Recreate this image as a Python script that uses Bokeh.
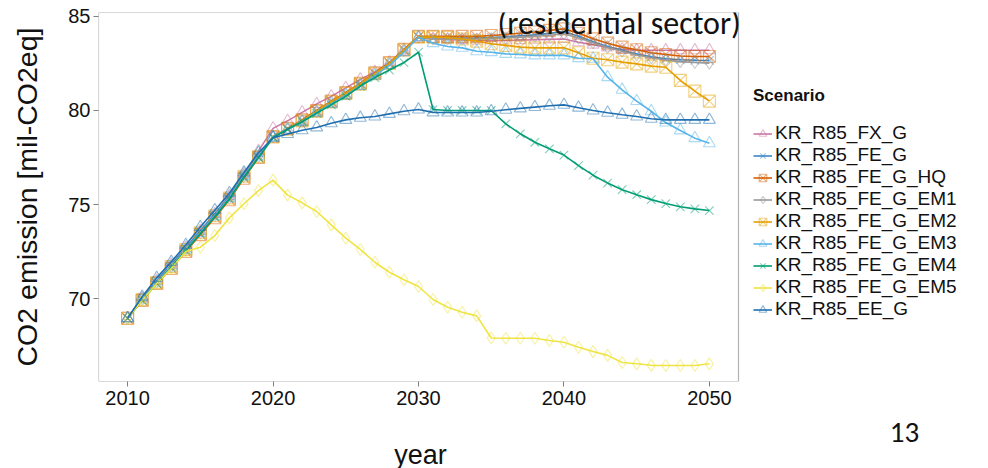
from bokeh.plotting import figure
from bokeh.layouts import column
from bokeh.models import Legend, LegendItem, Label, FixedTicker, Range1d
from bokeh.embed import file_html
from bokeh.resources import INLINE

years = list(range(2010, 2051))

scenarios = ["KR_R85_FX_G", "KR_R85_FE_G", "KR_R85_FE_G_HQ", "KR_R85_FE_G_EM1",
             "KR_R85_FE_G_EM2", "KR_R85_FE_G_EM3", "KR_R85_FE_G_EM4",
             "KR_R85_FE_G_EM5", "KR_R85_EE_G"]

fx_g = [68.95, 70.0, 70.95, 71.8, 72.7, 73.6, 74.5, 75.45, 76.6, 77.85, 79.05,
        79.45, 79.9, 80.35, 80.75, 81.2, 81.65, 82.05, 82.55, 83.2, 83.9,
        83.8, 83.78, 83.75, 83.72, 83.72, 83.72, 83.74, 83.76, 83.78, 83.8,
        83.63, 83.5, 83.35, 83.25, 83.2, 83.2, 83.2, 83.2, 83.2, 83.2]
fe_g = [68.95, 70.05, 70.95, 71.8, 72.7, 73.6, 74.5, 75.45, 76.55, 77.6, 78.6,
        79.0, 79.45, 79.95, 80.45, 80.9, 81.4, 81.95, 82.5, 83.2, 83.9,
        83.85, 83.85, 83.85, 83.85, 83.88, 83.92, 83.97, 84.02, 84.1, 84.2,
        83.95, 83.65, 83.4, 83.2, 83.0, 82.85, 82.75, 82.7, 82.67, 82.66]
fe_g_hq = [68.95, 69.9, 70.8, 71.6, 72.5, 73.4, 74.3, 75.25, 76.4, 77.5, 78.6,
           79.05, 79.5, 80.0, 80.5, 80.95, 81.45, 82.0, 82.55, 83.25, 83.94,
           83.94, 83.94, 83.94, 83.94, 83.99, 84.04, 84.11, 84.17, 84.26, 84.34,
           84.11, 83.81, 83.58, 83.37, 83.23, 83.07, 82.98, 82.9, 82.87, 82.87]
fe_g_em1 = [68.95, 69.95, 70.85, 71.7, 72.6, 73.5, 74.4, 75.35, 76.5, 77.55, 78.6,
            79.0, 79.45, 79.95, 80.45, 80.9, 81.4, 81.95, 82.5, 83.2, 83.9,
            83.8, 83.8, 83.8, 83.8, 83.82, 83.86, 83.9, 83.95, 84.0, 84.08,
            83.85, 83.6, 83.35, 83.15, 82.95, 82.8, 82.68, 82.6, 82.55, 82.52]
fe_g_em2 = [68.95, 69.95, 70.85, 71.7, 72.6, 73.5, 74.4, 75.35, 76.5, 77.55, 78.6,
            79.0, 79.45, 79.95, 80.45, 80.9, 81.4, 81.95, 82.5, 83.2, 83.9,
            83.9, 83.88, 83.8, 83.69, 83.55, 83.46, 83.37, 83.33, 83.33, 83.33,
            83.07, 82.78, 82.7, 82.57, 82.48, 82.36, 82.3, 81.6, 81.03, 80.5]
fe_g_em3 = [68.95, 69.95, 70.85, 71.7, 72.6, 73.5, 74.4, 75.35, 76.5, 77.55, 78.6,
            79.0, 79.4, 79.9, 80.35, 80.8, 81.3, 81.85, 82.4, 83.1, 83.9,
            83.58, 83.4, 83.33, 83.15, 83.1, 83.01, 82.98, 82.93, 82.93, 82.93,
            82.78, 82.75, 81.77, 81.1, 80.5, 79.96, 79.36, 78.94, 78.53, 78.26]
fe_g_em4 = [68.95, 69.9, 70.8, 71.65, 72.55, 73.45, 74.35, 75.3, 76.45, 77.5, 78.55,
            79.0, 79.4, 79.85, 80.3, 80.75, 81.3, 81.75, 82.15, 82.55, 83.1,
            80.05, 80.0, 80.0, 80.0, 80.0, 79.29, 78.76, 78.31, 77.96, 77.63,
            77.07, 76.56, 76.14, 75.79, 75.52, 75.26, 75.05, 74.88, 74.77, 74.68]
fe_g_em5 = [68.95, 69.9, 70.8, 71.6, 72.5, 72.73, 73.35, 74.29, 75.04, 75.74, 76.3,
            75.5, 75.09, 74.63, 73.92, 73.21, 72.61, 71.93, 71.4, 71.0, 70.64,
            69.95, 69.54, 69.27, 69.08, 67.9, 67.89, 67.89, 67.89, 67.77, 67.68,
            67.41, 67.18, 66.98, 66.6, 66.53, 66.45, 66.44, 66.44, 66.44, 66.53]
ee_g = [68.95, 70.1, 71.1, 71.95, 72.85, 73.8, 74.7, 75.6, 76.7, 77.75, 78.55,
        78.75, 78.95, 79.1, 79.32, 79.5, 79.61, 79.68, 79.82, 79.96, 80.05,
        79.9, 79.89, 79.89, 79.89, 79.96, 80.04, 80.11, 80.18, 80.25, 80.3,
        80.15, 80.0, 79.88, 79.77, 79.68, 79.56, 79.5, 79.5, 79.5, 79.5]

series = [fx_g, fe_g, fe_g_hq, fe_g_em1, fe_g_em2, fe_g_em3, fe_g_em4, fe_g_em5, ee_g]
colors = ["#CC79A7", "#3A87C8", "#D55E00", "#999999", "#E69F00",
          "#56B4E9", "#009E73", "#F0E442", "#1F6FB0"]
markers = ["triangle", "x", "square_x", "diamond", "square_x",
           "triangle", "x", "diamond", "triangle"]

x_ticks = [2010, 2020, 2030, 2040, 2050]
y_ticks = [70, 75, 80, 85]

# panel (plot area) limits
x0, x1 = 2008.0, 2052.0
y0, y1 = 65.59, 85.21

FONT = "Liberation Sans"
INK = "#111111"

W, H_MAIN, H_FOOT = 988, 413, 55
LEFT, TOP, BOTTOM = 98, 12, 32
PANEL_W = 640          # width of the drawn plot panel
FRAME_W = W - LEFT     # frame runs on under the legend
x_end = x1 + (FRAME_W - PANEL_W) * (x1 - x0) / PANEL_W

p = figure(width=W, height=H_MAIN, output_backend="svg", toolbar_location=None,
           x_range=Range1d(x0, x_end), y_range=Range1d(y0, y1),
           min_border_left=LEFT, min_border_right=0, min_border_top=TOP,
           min_border_bottom=BOTTOM)
p.background_fill_color = "white"
p.border_fill_color = "white"
p.outline_line_color = None
p.xgrid.visible = False
p.ygrid.visible = False

for ax, ticks, stand in ((p.xaxis[0], x_ticks, 4), (p.yaxis[0], y_ticks, 3)):
    ax.ticker = FixedTicker(ticks=ticks)
    ax.axis_line_color = None
    ax.major_tick_line_color = "#7f7f7f"
    ax.major_tick_out = 5
    ax.major_tick_in = 0
    ax.minor_tick_line_color = None
    ax.major_label_text_font = FONT
    ax.major_label_text_font_size = "20px"
    ax.major_label_text_color = INK
    ax.major_label_standoff = stand

yax = p.yaxis[0]
yax.axis_label = "CO2 emission [mil-CO2eq]"
yax.axis_label_text_font = FONT
yax.axis_label_text_font_size = "28.5px"
yax.axis_label_text_font_style = "normal"
yax.axis_label_text_color = INK
yax.axis_label_standoff = 22

items = []
for name, vals, col, mk in zip(scenarios, series, colors, markers):
    ln = p.line(years, vals, line_color=col, line_width=1.6)
    sc = p.scatter(years, vals, marker=mk, size=12, fill_color=None,
                   line_color=col, line_alpha=0.5, line_width=1.1)
    items.append(LegendItem(label=name, renderers=[ln, sc]))

# panel border
p.quad(left=[x0], right=[x1], bottom=[y0], top=[y1], fill_color=None,
       line_color="#b3b3b3", line_width=1.2)

legend = Legend(items=items, location=(655, 61), title="Scenario",
                title_text_font=FONT, title_text_font_style="bold",
                title_text_font_size="17px", title_text_color=INK,
                title_standoff=16, label_text_font=FONT,
                label_text_font_size="19px", label_text_color=INK,
                glyph_width=19, glyph_height=19, label_height=19,
                label_standoff=3, spacing=0, padding=0, margin=0,
                border_line_color=None, background_fill_alpha=0.0)
p.add_layout(legend, "center")

p.add_layout(Label(x=399, y=358, x_units="screen", y_units="screen",
                   text="(residential sector)", text_align="left",
                   text_baseline="alphabetic", text_font="Carlito",
                   text_font_size="32px", text_color=INK))

# strip below the chart: x-axis title and slide number
foot = figure(width=W, height=H_FOOT, output_backend="svg", toolbar_location=None,
              x_range=Range1d(0, 1), y_range=Range1d(0, 1),
              x_axis_location=None, y_axis_location=None,
              min_border_left=LEFT, min_border_right=0, min_border_top=0,
              min_border_bottom=0)
foot.outline_line_color = None
foot.xgrid.visible = False
foot.ygrid.visible = False
foot.add_layout(Label(x=322, y=14, x_units="screen", y_units="screen",
                      text="year", text_align="center", text_baseline="alphabetic",
                      text_font=FONT, text_font_size="27px", text_color=INK))
foot.add_layout(Label(x=806, y=36, x_units="screen", y_units="screen",
                      text="13", text_align="center", text_baseline="alphabetic",
                      text_font="Carlito", text_font_size="29px", text_color=INK))

layout = column(p, foot, spacing=0)
open("out.html", "w").write(file_html(layout, INLINE))
